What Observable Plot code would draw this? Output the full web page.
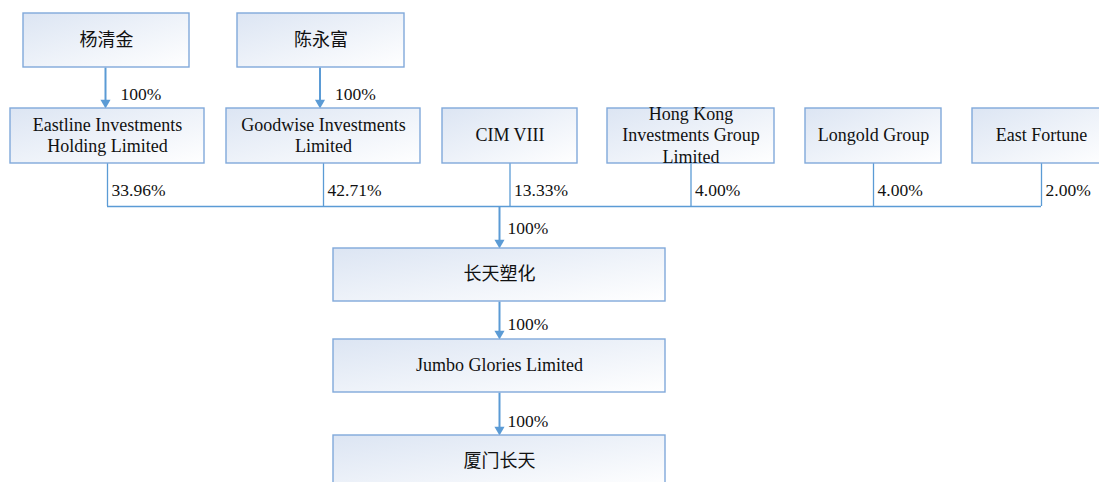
<!DOCTYPE html>
<html>
<head>
<meta charset="utf-8">
<script src="https://cdn.jsdelivr.net/npm/d3@7"></script>
<script src="https://cdn.jsdelivr.net/npm/@observablehq/plot@0.6"></script>
<style>
  html, body { margin: 0; padding: 0; background: #fff; overflow: hidden; }
</style>
</head>
<body>
<div id="chart"></div>
<script>
// ---- Data ----
const owners = ["杨清金", "陈永富"];
const ownerShares = ["100%", "100%"];
const holders = [
  "Eastline Investments\nHolding Limited",
  "Goodwise Investments\nLimited",
  "CIM VIII",
  "Hong Kong\nInvestments Group\nLimited",
  "Longold Group",
  "East Fortune"
];
const holderShares = ["33.96%", "42.71%", "13.33%", "4.00%", "4.00%", "2.00%"];
const chain = ["长天塑化", "Jumbo Glories Limited", "厦门长天"];
const chainShares = ["100%", "100%", "100%"];

// ---- Layout (diagram geometry) ----
const ownerX1 = [23, 237], ownerX2 = [189, 404];
const ownerTop = 13, ownerBottom = 67;
const holderX1 = [10, 226, 442, 607, 805, 972], holderX2 = [204, 420, 577, 774, 941, 1110];
const holderTop = 108, holderBottom = 163;
const busY = 206;
const chainX1 = 333, chainX2 = 665;
const chainTop = [248, 339, 435], chainH = 53;
const trunkX = 499;

const serif = "'Liberation Serif', 'Noto Sans CJK SC', serif";
const lineColor = "#5b9bd5";
const borderColor = "#80a9da";

const boxes = [
  ...owners.map((name, i) => ({name, x1: ownerX1[i], x2: ownerX2[i], y1: ownerTop, y2: ownerBottom})),
  ...holders.map((name, i) => ({name, x1: holderX1[i], x2: holderX2[i], y1: holderTop, y2: holderBottom})),
  ...chain.map((name, i) => ({name, x1: chainX1, x2: chainX2, y1: chainTop[i], y2: chainTop[i] + chainH}))
];

const ownerCx = owners.map((_, i) => (ownerX1[i] + ownerX2[i]) / 2 - 1);
const holderCx = holders.map((_, i) => (holderX1[i] + holderX2[i]) / 2);

// arrows: from (x, y1) to tip (x, y2); label placed at (lx, ly)
const arrows = [
  ...owners.map((_, i) => ({x: ownerCx[i], y1: ownerBottom, y2: holderTop, label: ownerShares[i], lx: ownerCx[i] + 15, ly: 94})),
  {x: trunkX, y1: busY, y2: chainTop[0], label: chainShares[0], lx: trunkX + 8, ly: 228},
  {x: trunkX, y1: chainTop[0] + chainH, y2: chainTop[1], label: chainShares[1], lx: trunkX + 8, ly: 324},
  {x: trunkX, y1: chainTop[1] + chainH, y2: chainTop[2], label: chainShares[2], lx: trunkX + 8, ly: 421}
];

const drops = holders.map((_, i) => ({x: holderCx[i], label: holderShares[i]}));

const headH = 8.7;

const chart = Plot.plot({
  width: 1099,
  height: 482,
  margin: 0,
  x: {domain: [0, 1099], range: [0, 1099], axis: null},
  y: {domain: [0, 482], range: [0, 482], axis: null},
  style: {fontFamily: serif, background: "#fff", color: "#111"},
  marks: [
    // connectors
    Plot.ruleX(drops, {x: "x", y1: holderBottom, y2: busY, stroke: lineColor, strokeWidth: 1.3}),
    Plot.ruleY([busY], {x1: holderCx[0], x2: holderCx[holderCx.length - 1], stroke: lineColor, strokeWidth: 1.3}),
    // arrow shafts
    Plot.link(arrows, {x1: "x", x2: "x", y1: "y1", y2: d => d.y2 - headH + 1, stroke: lineColor, strokeWidth: 2}),
    // arrow heads
    Plot.dot(arrows, {x: "x", y: d => d.y2 - headH / 1.5, symbol: "triangle", r: 3.75, rotate: 180, fill: lineColor, stroke: "none"}),
    // boxes
    Plot.rect(boxes, {x1: "x1", x2: "x2", y1: "y1", y2: "y2", fill: "url(#boxGrad)", stroke: borderColor, strokeWidth: 1.4}),
    Plot.text(boxes, {
      x: d => (d.x1 + d.x2) / 2,
      y: d => (d.y1 + d.y2) / 2 - 1.5,
      text: "name",
      fontSize: 18,
      fontFamily: serif,
      lineHeight: 1.2,
      fill: "#111"
    }),
    // percent labels
    Plot.text(arrows, {x: "lx", y: "ly", text: "label", textAnchor: "start", fontSize: 17.5, fontFamily: serif, fontVariant: "normal", fill: "#111"}),
    Plot.text(drops, {x: d => d.x + 4, y: 190, text: "label", textAnchor: "start", fontSize: 17.5, fontFamily: serif, fontVariant: "normal", fill: "#111"})
  ]
});

const defs = d3.select(chart).insert("defs", ":first-child");
const grad = defs.append("linearGradient").attr("id", "boxGrad")
  .attr("x1", "0").attr("y1", "0").attr("x2", "1").attr("y2", "1");
grad.append("stop").attr("offset", "0").attr("stop-color", "#dce5f3");
grad.append("stop").attr("offset", "1").attr("stop-color", "#ffffff");

document.getElementById("chart").appendChild(chart);
</script>
</body>
</html>
